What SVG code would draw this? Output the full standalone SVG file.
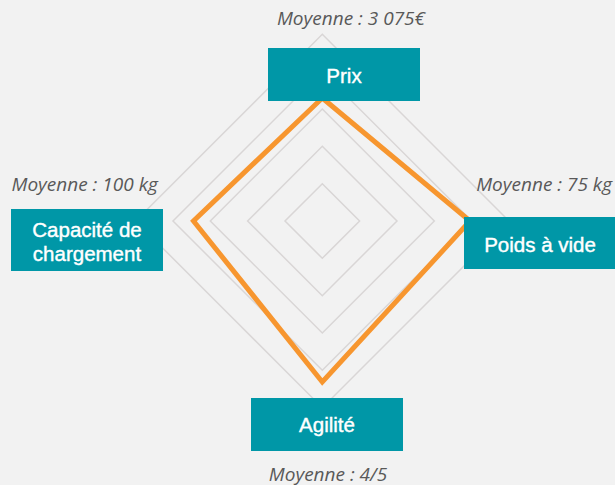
<svg xmlns="http://www.w3.org/2000/svg" width="615" height="485" viewBox="0 0 615 485">
<style>
.grid{fill:none;stroke:#d9d6d6;stroke-width:1.5}
.series{fill:none;stroke:#f7962f;stroke-width:5;stroke-linejoin:miter}
.box{fill:#0097a7}
.lbl{font-family:"Liberation Sans",Arial,sans-serif;font-size:20.5px;fill:#ffffff;stroke:#ffffff;stroke-width:0.4;text-anchor:middle}
.avg{font-family:"Open Sans","Liberation Sans",sans-serif;font-style:italic;font-size:19px;fill:#595959}
</style>
<rect width="615" height="485" fill="#f2f2f2"/>
<g id="grid">
<polygon class="grid" points="322.3,183.7 359.6,221 322.3,258.3 285,221"/>
<polygon class="grid" points="322.3,146.3 397,221 322.3,295.7 247.6,221"/>
<polygon class="grid" points="322.3,109 434.3,221 322.3,333 210.3,221"/>
<polygon class="grid" points="322.3,71.7 471.6,221 322.3,370.3 173,221"/>
<polygon class="grid" points="322.3,34.3 509,221 322.3,407.7 135.6,221"/>
</g>
<g id="connectors">
<polygon class="series" points="322.3,98 470,221 322.3,382 193.5,221"/>
</g>
<g id="node-prix">
<rect class="box" x="268" y="48" width="152" height="53"/>
<text class="lbl" x="344" y="83">Prix</text>
</g>
<g id="node-poids">
<rect class="box" x="464" y="217" width="152" height="52"/>
<text class="lbl" x="540" y="251.5">Poids à vide</text>
</g>
<g id="node-agilite">
<rect class="box" x="251" y="398" width="152" height="53"/>
<text class="lbl" x="327" y="432">Agilité</text>
</g>
<g id="node-capacite">
<rect class="box" x="11" y="209" width="152" height="62"/>
<text class="lbl" x="87" y="236.5">Capacité de</text>
<text class="lbl" x="87" y="260.5">chargement</text>
</g>
<g id="averages">
<text class="avg" x="351" y="25" text-anchor="middle">Moyenne : 3 075€</text>
<text class="avg" x="612" y="191" text-anchor="end">Moyenne : 75 kg</text>
<text class="avg" x="11.5" y="191">Moyenne : 100 kg</text>
<text class="avg" x="328" y="480.5" text-anchor="middle">Moyenne : 4/5</text>
</g>
</svg>
